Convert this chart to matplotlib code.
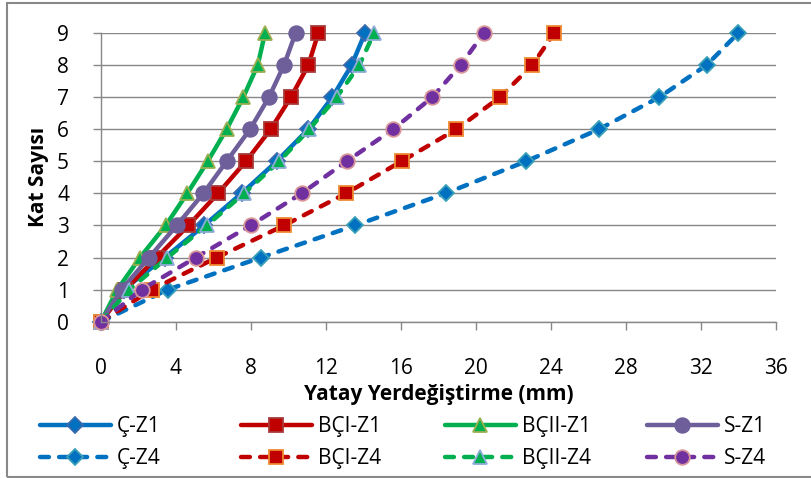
import matplotlib
matplotlib.use("Agg")
import matplotlib.pyplot as plt
from matplotlib.patches import Rectangle

plt.rcParams['font.family'] = ['Open Sans', 'DejaVu Sans']

floors = [0, 1, 2, 3, 4, 5, 6, 7, 8, 9]

c_z1 = [0, 1.2, 3.4, 5.5, 7.5, 9.37, 11.06, 12.34, 13.37, 14.08]
bci_z1 = [0, 1.3, 2.97, 4.66, 6.24, 7.73, 9.05, 10.13, 11.06, 11.59]
bcii_z1 = [0, 0.87, 2.08, 3.45, 4.60, 5.69, 6.70, 7.59, 8.36, 8.75]
s_z1 = [0, 1.10, 2.56, 4.04, 5.46, 6.70, 7.95, 8.96, 9.76, 10.38]

c_z4 = [0, 3.56, 8.53, 13.55, 18.38, 22.67, 26.56, 29.78, 32.3, 33.99]
bci_z4 = [0, 2.70, 6.17, 9.76, 13.07, 16.03, 18.96, 21.28, 23.0, 24.18]
bcii_z4 = [0, 1.51, 3.54, 5.64, 7.63, 9.51, 11.11, 12.57, 13.78, 14.56]
s_z4 = [0, 2.17, 5.05, 7.98, 10.70, 13.10, 15.59, 17.67, 19.18, 20.43]

labels = ["Ç-Z1", "BÇI-Z1", "BÇII-Z1", "S-Z1", "Ç-Z4", "BÇI-Z4", "BÇII-Z4", "S-Z4"]
series = [c_z1, bci_z1, bcii_z1, s_z1, c_z4, bci_z4, bcii_z4, s_z4]

x_ticks = [0, 4, 8, 12, 16, 20, 24, 28, 32, 36]
y_ticks = [0, 1, 2, 3, 4, 5, 6, 7, 8, 9]

dash = (0, (2, 2.3))
styles = [
    dict(color="#0070C0", marker="D", ms=8, mfc="#0070C0", mec="#3C6AAE", ls="-"),
    dict(color="#C00000", marker="s", ms=9.5, mfc="#C00000", mec="#A83A3A", ls="-"),
    dict(color="#00B050", marker="^", ms=10.5, mfc="#00B050", mec="#9BAF50", ls="-"),
    dict(color="#6E5E9A", marker="o", ms=10.5, mfc="#6E5E9A", mec="#6E5E9A", ls="-"),
    dict(color="#0070C0", marker="D", ms=8, mfc="#0070C0", mec="#3A9FB8", ls=dash),
    dict(color="#C00000", marker="s", ms=9.5, mfc="#C00000", mec="#EE8A32", ls=dash),
    dict(color="#00B050", marker="^", ms=10.5, mfc="#00B050", mec="#8EACD8", ls=dash),
    dict(color="#7030A0", marker="o", ms=10.5, mfc="#7030A0", mec="#D8959A", ls=dash),
]

W, H = 811, 478
fig = plt.figure(figsize=(W / 100, H / 100), dpi=100)

def fx(px):
    return px / W

def fy(py):
    return 1 - py / H

ax = fig.add_axes([fx(101), fy(321.7), fx(776) - fx(101), fy(33) - fy(321.7)])

handles = []
for vals, lab, st in zip(series, labels, styles):
    h, = ax.plot(vals, floors, color=st["color"], lw=3.2, ls=st["ls"],
                 marker=st["marker"], ms=st["ms"], mfc=st["mfc"], mec=st["mec"], mew=1.3,
                 dash_capstyle="round", solid_capstyle="round", label=lab, clip_on=False)
    handles.append(h)

ax.set_xlim(0, 36)
ax.set_ylim(0, 9)
ax.set_xticks(x_ticks)
ax.set_yticks(y_ticks)
ax.set_xticklabels([str(v) for v in x_ticks])
ax.set_yticklabels([str(v) for v in y_ticks])
ax.grid(axis="y", color="#878787", lw=1.0)
ax.set_axisbelow(True)
for s in ["top", "right"]:
    ax.spines[s].set_visible(False)
for s in ["left", "bottom"]:
    ax.spines[s].set_color("#878787")
    ax.spines[s].set_linewidth(1.0)
ax.tick_params(axis="x", direction="out", length=6, width=1.0, color="#878787",
               labelsize=15, pad=20)
ax.tick_params(axis="y", direction="out", length=6, width=1.0, color="#878787",
               labelsize=15, pad=17)

ax.set_xlabel("Yatay Yerdeğiştirme (mm)", fontsize=15, fontweight="bold", labelpad=4)
ax.set_ylabel("Kat Sayısı", fontsize=15, fontweight="bold", labelpad=6)

# outer frame
fig.patches.append(Rectangle((fx(7), fy(477)), fx(815) - fx(7), fy(3) - fy(477),
                             transform=fig.transFigure, fill=False,
                             edgecolor="#888888", lw=1.5))

# legend: 4 columns placed individually
col_x = [40, 241, 445, 647]
for i in range(4):
    fig.legend([handles[i], handles[i + 4]], [labels[i], labels[i + 4]],
               loc="upper left", bbox_to_anchor=(fx(col_x[i]), fy(416)),
               frameon=False, fontsize=15, handlelength=3.4, handletextpad=0.3,
               labelspacing=0.55, borderpad=0, borderaxespad=0)

fig.savefig("out.png", dpi=100)
